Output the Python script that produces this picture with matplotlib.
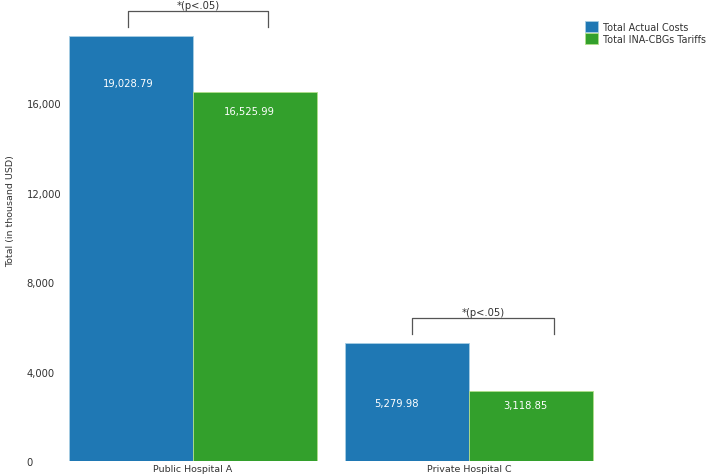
"""Total actual costs vs INA-CBGs tariffs per hospital."""
import matplotlib.pyplot as plt
from matplotlib.patches import Patch
import numpy as np

# Data
hospitals = ["Public Hospital A", "Private Hospital C"]
actual_costs = [19028.79, 5279.98]
ina_cbg_tariffs = [16525.99, 3118.85]
series_names = ["Total Actual Costs", "Total INA-CBGs Tariffs"]
y_ticks = [0, 4000, 8000, 12000, 16000]
sig_text = "*(p<.05)"

# Style
colors = ["#1f78b4", "#33a02c"]
edge_colors = ["#a6cee3", "#b2df8a"]
text_color = "#333333"
bar_width = 0.45
# where the value labels sit relative to bar top (pixels: dx, dy)
label_offsets = [[(-3, -47), (-6, -19)], [(-10, -60), (-6, -14)]]
# bracket end shifts from the bar centres (pixels: left, right)
bracket_shifts = [(-3, 13), (5, 23)]

plt.rcParams["font.family"] = ["DejaVu Sans"]

fig = plt.figure(figsize=(7.08, 4.77), dpi=100)
ax = fig.add_axes([60 / 708, 15 / 477, 540 / 708, 462 / 477])

x = np.arange(len(hospitals))
series = [actual_costs, ina_cbg_tariffs]
for i, vals in enumerate(series):
    pos = x + (i - 0.5) * bar_width
    ax.bar(pos, vals, width=bar_width, color=colors[i], edgecolor=edge_colors[i],
           linewidth=0.6, zorder=2)
    for j, v in enumerate(vals):
        dx, dy = label_offsets[j][i]
        ax.annotate(f"{v:,.2f}", xy=(pos[j], v), xytext=(dx * 0.72, dy * 0.72),
                    textcoords="offset points", ha="center", va="center",
                    color="white", fontsize=7.2, zorder=3)

# significance brackets
px = 1 / 0.02235  # data units per pixel
xpx = 1 / 276.0   # x data units per pixel
for j in range(len(hospitals)):
    top = max(actual_costs[j], ina_cbg_tariffs[j])
    x0 = x[j] - 0.5 * bar_width + bracket_shifts[j][0] * xpx
    x1 = x[j] + 0.5 * bar_width + bracket_shifts[j][1] * xpx
    leg = top + 9 * px
    line = top + 25 * px
    ax.plot([x0, x0, x1, x1], [leg, line, line, leg], color="#555555",
            linewidth=0.9, clip_on=False, zorder=3)
    ax.text((x0 + x1) / 2, line + 6 * px, sig_text, ha="center", va="center",
            fontsize=7.2, color=text_color, clip_on=False)

ax.set_xlim(-0.482, 1.475)
ax.set_ylim(0, 462 * px)
ax.set_xticks(x)
ax.set_xticklabels(hospitals, fontsize=6.8, color=text_color)
ax.set_yticks(y_ticks)
ax.set_yticklabels([f"{t:,}" for t in y_ticks], fontsize=7.2, color=text_color)
for lbl in ax.get_yticklabels():
    lbl.set_ha("left")
ax.tick_params(axis="y", length=0, pad=24)
ax.tick_params(axis="x", length=0, pad=2)
for s in ax.spines.values():
    s.set_visible(False)

fig.text(0.008, 1 - 211 / 477, "Total (in thousand USD)", rotation=90,
         ha="left", va="center", fontsize=6.8, color=text_color)

handles = [Patch(facecolor=c, edgecolor=e, linewidth=0.6) for c, e in zip(colors, edge_colors)]
fig.legend(handles, series_names, loc="upper left", bbox_to_anchor=(585 / 708, 1 - 22 / 477),
           frameon=False, fontsize=6.9, handlelength=1.4, handleheight=1.4,
           handletextpad=0.5, labelspacing=0.1, borderpad=0, borderaxespad=0,
           labelcolor=text_color)

fig.savefig("out.png", dpi=100)
plt.close(fig)
